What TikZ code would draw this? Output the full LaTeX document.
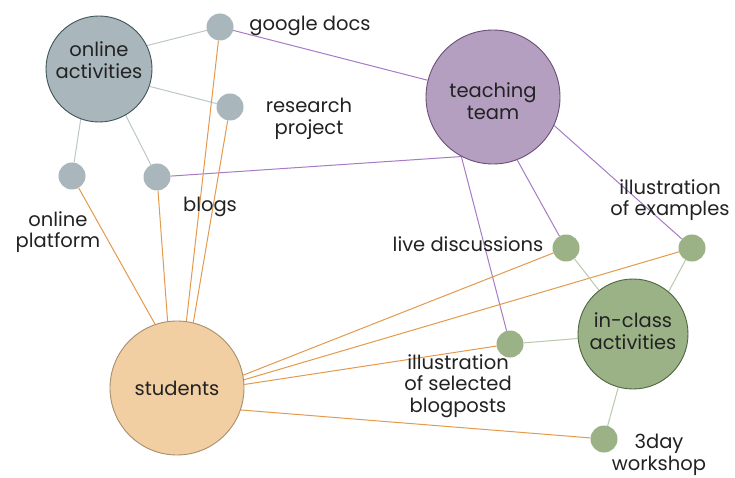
\documentclass[tikz,border=0pt]{standalone}
\usepackage{fontspec}
\setmainfont{Poppins}
\usetikzlibrary{backgrounds}
\definecolor{oafill}{HTML}{A9B7BC}
\definecolor{oadraw}{HTML}{3E5459}
\definecolor{ttfill}{HTML}{B49FC0}
\definecolor{ttdraw}{HTML}{6B4F78}
\definecolor{stfill}{HTML}{F1CFA2}
\definecolor{stdraw}{HTML}{A98E6E}
\definecolor{icfill}{HTML}{9BB287}
\definecolor{icdraw}{HTML}{4D6640}
\definecolor{grayline}{HTML}{BCC7CB}
\definecolor{purpline}{HTML}{A77BC6}
\definecolor{orangeline}{HTML}{E39A4E}
\definecolor{greenline}{HTML}{B8C9AC}
\definecolor{txt}{HTML}{222222}
\begin{document}
\begin{tikzpicture}[x=1pt,y=-1pt,
  big/.style={circle,inner sep=0pt,line width=0.9pt,text=txt,align=center,font=\fontsize{19.5}{21.5}\selectfont},
  small/.style={circle,inner sep=0pt,minimum size=27pt},
  lbl/.style={text=txt,align=center,inner sep=0pt,font=\fontsize{19.5}{21.5}\selectfont},
  gl/.style={draw=grayline,line width=1pt},
  pl/.style={draw=purpline,line width=1pt},
  ol/.style={draw=orangeline,line width=1pt},
  grl/.style={draw=greenline,line width=1pt}]
\useasboundingbox (0,0) rectangle (735,478);
% big nodes
\node[big,fill=oafill,draw=oadraw,minimum size=106pt] (oa) at (99,69) {};
\node[lbl] (oat) at (99,60) {online\\activities};
\node[big,fill=ttfill,draw=ttdraw,minimum size=134pt] (tt) at (493,97) {};
\node[lbl] (ttt) at (493,101) {teaching\\team};
\node[big,fill=stfill,draw=stdraw,minimum size=134pt] (st) at (177,388) {students};
\node[big,fill=icfill,draw=icdraw,minimum size=110pt] (ic) at (633,334) {};
\node[lbl] (ict) at (633,331) {in-class\\activities};
% small nodes
\node[small,fill=oafill] (gd) at (220,27) {};
\node[small,fill=oafill] (rp) at (230,107) {};
\node[small,fill=oafill] (op) at (72,176) {};
\node[small,fill=oafill] (bl) at (157,177) {};
\node[small,fill=icfill] (ld) at (566,248) {};
\node[small,fill=icfill] (ie) at (692,248) {};
\node[small,fill=icfill] (sb) at (510,344) {};
\node[small,fill=icfill] (wk) at (604,439) {};
% labels
\node[lbl] (gdl) at (310,26) {google docs};
\node[lbl] (rpl) at (309,119) {research\\project};
\node[lbl] (bll) at (210,207) {blogs};
\node[lbl] (opl) at (58,232) {online\\platform};
\node[lbl] (ldl) at (468,244) {live discussions};
\node[lbl] (iel) at (670,200) {illustration\\of examples};
\node[lbl] (sbl) at (458,386) {illustration\\of selected\\blogposts};
\node[lbl] (wkl) at (659,455) {3day\\workshop};
% edges
\begin{scope}[on background layer]
\fill[white] (0,0) rectangle (735,478);
\draw[gl] (oa.26) -- (gd);
\draw[gl] (oa.-19) -- (rp);
\draw[gl] (oa.-110) -- (op);
\draw[gl] (oa.-60) -- (bl);
\draw[pl] (gd) -- (tt);
\draw[pl] (bl) -- (tt.-118);
\draw[pl] (tt.-69) -- (ld);
\draw[pl] (tt.-25) -- (ie);
\draw[pl] (tt.-118) -- (sb);
\draw[ol] (st.109.5) -- (op);
\draw[ol] (st.98.6) -- (bl);
\draw[ol] (st.82) -- (gd);
\draw[ol] (st.76) -- (rp);
\draw[ol] (st.11) -- (ld);
\draw[ol] (st.7) -- (ie);
\draw[ol] (st.3.4) -- (sb);
\draw[ol] (st.-19.5) -- (wk);
\draw[grl] (ic) -- (ld);
\draw[grl] (ic.50) -- (ie);
\draw[grl] (ic) -- (sb);
\draw[grl] (ic) -- (wk);
\end{scope}
\end{tikzpicture}
\end{document}
